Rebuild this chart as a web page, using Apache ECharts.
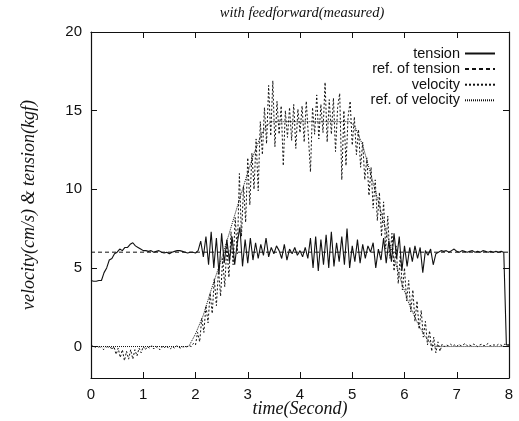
<!DOCTYPE html>
<html>
<head>
<meta charset="utf-8">
<script src="https://cdn.jsdelivr.net/npm/echarts@6/dist/echarts.min.js"></script>
<style>
  html, body { margin: 0; padding: 0; background: #fff; }
  #chart { width: 519px; height: 421px; }
</style>
</head>
<body>
<div id="chart"></div>
<script>
// Tick labels
const xTicks = [0, 1, 2, 3, 4, 5, 6, 7, 8];
const yTicks = [0, 5, 10, 15, 20];

// Measured tension (kgf), sampled every 0.05 s from t = 0
const tensionStep = 0.05;
const tension = [
  4.2, 4.15, 4.15, 4.2, 4.2, 4.7, 5.0, 5.5, 5.6, 5.9,
  6.0, 6.2, 6.1, 6.3, 6.3, 6.5, 6.6, 6.4, 6.3, 6.2,
  6.1, 6.1, 6.05, 6.1, 6.0, 6.05, 6.1, 6.0, 5.95, 6.0,
  5.9, 6.0, 6.05, 6.1, 6.1, 6.05, 6.0, 5.95, 6.0, 6.0,
  5.95, 6.1, 6.7, 5.7, 7.0, 5.2, 7.3, 5.0, 6.9, 4.6,
  7.2, 5.3, 6.8, 5.4, 7.0, 5.2, 6.6, 7.6, 5.1, 6.8,
  5.3, 6.9, 5.5, 6.6, 5.6, 6.5, 5.8, 6.9, 5.7, 6.3,
  5.9, 6.4, 6.1, 5.6, 6.5, 5.5, 6.2, 5.9, 6.3, 5.8,
  6.1, 5.7, 6.3, 5.6, 6.9, 5.0, 7.0, 4.8, 6.8, 5.2,
  7.1, 5.0, 7.3, 5.1, 6.6, 5.4, 7.0, 5.2, 7.5, 5.0,
  6.4, 5.4, 6.8, 5.3, 6.5, 5.6, 6.4, 6.0, 6.6, 5.0,
  6.2, 5.5, 6.9, 5.3, 6.7, 5.4, 7.2, 5.6, 7.0, 4.8,
  6.4, 5.1, 6.3, 5.4, 6.4, 5.6, 6.3, 4.7, 6.1, 5.8,
  6.2, 5.2, 5.9, 6.0, 6.1, 6.05, 6.1, 6.0, 6.1, 6.2,
  6.05, 6.0, 6.1, 6.05, 6.0, 6.05, 6.1, 6.0, 6.05, 6.0,
  6.1, 6.05, 6.0, 6.05, 6.0, 6.05, 6.0, 6.05, 6.0, 0.1,
  0.1
];

// Tension reference (kgf): [time, value]
const tensionRef = [[0, 6], [8, 6]];

// Measured velocity (cm/s), sampled every 0.04 s from t = 0
const velocityStep = 0.04;
const velocity = [
  0, 0.05, -0.05, 0.05, -0.1, 0, -0.2, 0, -0.1, 0.05,
  -0.2, 0, -0.5, -0.1, -0.7, -0.2, -0.9, -0.3, -0.8, -0.2,
  -0.8, -0.2, -0.6, -0.1, -0.4, 0, -0.2, 0, -0.1, 0.05,
  -0.15, 0, -0.1, -0.2, 0, -0.1, 0.05, -0.1, -0.15, 0,
  -0.1, 0.05, -0.05, -0.1, 0, -0.05, 0, 0.05, 0, 0.2,
  0.1, 0.9, 0.3, 1.8, 0.9, 2.6, 1.5, 3.4, 2.1, 4.3,
  2.6, 4.9, 3.2, 5.6, 3.8, 6.4, 4.4, 7.3, 5.2, 8.2,
  5.9, 11.0, 7.0, 10.2, 7.9, 12.0, 9.0, 12.3, 10.0, 13.2,
  9.9, 14.3, 12.2, 15.2, 12.9, 16.6, 13.4, 16.9, 12.7, 15.6,
  13.5, 15.3, 11.5, 15.0, 13.3, 15.2, 13.1, 15.4, 12.6, 15.1,
  13.6, 15.3, 13.0, 15.6, 13.4, 11.1, 15.2, 13.5, 16.0, 13.2,
  15.4, 13.6, 16.8, 13.0, 15.7, 13.5, 15.8, 12.4, 15.2, 16.1,
  10.6, 15.0, 11.5, 14.6, 15.6, 12.8, 14.6, 12.2, 13.8, 11.4,
  13.0, 10.6, 12.0, 9.6, 11.4, 8.8, 10.6, 8.0, 9.8, 7.0,
  9.2, 6.2, 8.3, 5.6, 7.2, 4.8, 6.4, 4.0, 5.8, 3.6,
  5.0, 2.9, 4.2, 2.2, 3.6, 1.6, 2.9, 1.1, 2.3, 0.6,
  1.6, 0.1, 1.0, -0.3, 0.6, -0.4, 0.3, -0.3, 0.15, 0,
  0.1, 0.05, 0.15, 0.05, 0.1, 0, 0.15, 0.05, 0.1, 0.2,
  0.05, 0.1, 0.05, 0.15, 0.1, 0, 0.1, 0.15, 0.05, 0.1,
  0.2, 0.05, 0.1, 0.1, 0.05, 0.15, 0.1, 0.05, 0.15, 0.1,
  0.1
];

// Velocity reference (cm/s): [time, value]
const velocityRef = [
  [0, 0], [1.87, 0], [2.0, 0.8], [2.15, 2.0], [2.3, 3.6], [2.5, 5.6],
  [2.7, 7.8], [2.9, 10.0], [3.1, 12.1], [3.25, 13.4], [3.35, 14.0],
  [3.45, 14.3], [4.95, 14.3], [5.05, 14.0], [5.2, 12.8], [5.35, 11.0],
  [5.5, 9.2], [5.65, 7.3], [5.8, 5.6], [5.95, 4.0], [6.1, 2.6],
  [6.25, 1.5], [6.4, 0.6], [6.5, 0.2], [6.58, 0], [8, 0]
];

function sampled(values, step) {
  return values.map((v, i) => [+(i * step).toFixed(3), v]);
}

const sans = 'Liberation Sans';
const serif = 'Liberation Serif';
const ink = '#111';

const tickStyle = { show: true, inside: true, length: 6, lineStyle: { color: ink, width: 1 } };
const frameLine = { show: true, onZero: false, lineStyle: { color: ink, width: 1.2 } };

const chart = echarts.init(document.getElementById('chart'), null, { renderer: 'canvas' });
chart.setOption({
  animation: false,
  backgroundColor: '#fff',
  title: {
    text: 'with feedforward(measured)',
    left: 297,
    textAlign: 'center',
    top: 1,
    textStyle: { fontFamily: serif, fontStyle: 'italic', fontWeight: 'normal', fontSize: 14.5, color: ink }
  },
  legend: {
    orient: 'vertical',
    align: 'right',
    right: 23,
    top: 46,
    padding: 0,
    itemWidth: 30,
    itemHeight: 14,
    itemGap: 0.6,
    itemStyle: { color: 'transparent', borderColor: 'transparent', borderWidth: 0 },
    textStyle: { fontFamily: sans, fontSize: 14.5, color: ink },
    data: ['tension', 'ref. of tension', 'velocity', 'ref. of velocity']
  },
  grid: { left: 91, right: 10, top: 32, bottom: 43, containLabel: false, outerBoundsMode: 'none' },
  xAxis: [
    {
      type: 'value', min: 0, max: 8, interval: 1, position: 'bottom',
      axisLine: frameLine, axisTick: tickStyle, splitLine: { show: false },
      axisLabel: { color: ink, fontFamily: sans, fontSize: 15, margin: 9,
        customValues: xTicks },
      name: 'time(Second)', nameLocation: 'middle', nameGap: 22, nameMoveOverlap: false,
      nameTextStyle: { fontFamily: serif, fontStyle: 'italic', fontSize: 18, color: ink }
    },
    {
      type: 'value', min: 0, max: 8, interval: 1, position: 'top',
      axisLine: frameLine, axisTick: tickStyle, splitLine: { show: false },
      axisLabel: { show: false }
    }
  ],
  yAxis: [
    {
      type: 'value', min: -2, max: 20, position: 'left',
      axisLine: frameLine,
      axisTick: Object.assign({}, tickStyle, { customValues: yTicks }),
      splitLine: { show: false },
      axisLabel: { color: ink, fontFamily: sans, fontSize: 15, margin: 9, customValues: yTicks },
      name: 'velocity(cm/s) & tension(kgf)', nameLocation: 'middle', nameGap: 53, nameMoveOverlap: false,
      nameTextStyle: { fontFamily: serif, fontStyle: 'italic', fontSize: 18, color: ink }
    },
    {
      type: 'value', min: -2, max: 20, position: 'right',
      axisLine: frameLine,
      axisTick: Object.assign({}, tickStyle, { customValues: yTicks }),
      splitLine: { show: false },
      axisLabel: { show: false }
    }
  ],
  series: [
    {
      name: 'tension', type: 'line', data: sampled(tension, tensionStep),
      symbol: 'none', showSymbol: false,
      lineStyle: { color: ink, width: 1.1, type: 'solid' }, itemStyle: { color: ink }
    },
    {
      name: 'ref. of tension', type: 'line', data: tensionRef,
      symbol: 'none', showSymbol: false,
      lineStyle: { color: ink, width: 1, type: [4, 3] }, itemStyle: { color: ink }
    },
    {
      name: 'velocity', type: 'line', data: sampled(velocity, velocityStep),
      symbol: 'none', showSymbol: false,
      lineStyle: { color: ink, width: 1, type: [2, 2] }, itemStyle: { color: ink }
    },
    {
      name: 'ref. of velocity', type: 'line', data: velocityRef,
      symbol: 'none', showSymbol: false,
      lineStyle: { color: ink, width: 1, type: [1, 1] }, itemStyle: { color: ink }
    }
  ]
});
</script>
</body>
</html>
